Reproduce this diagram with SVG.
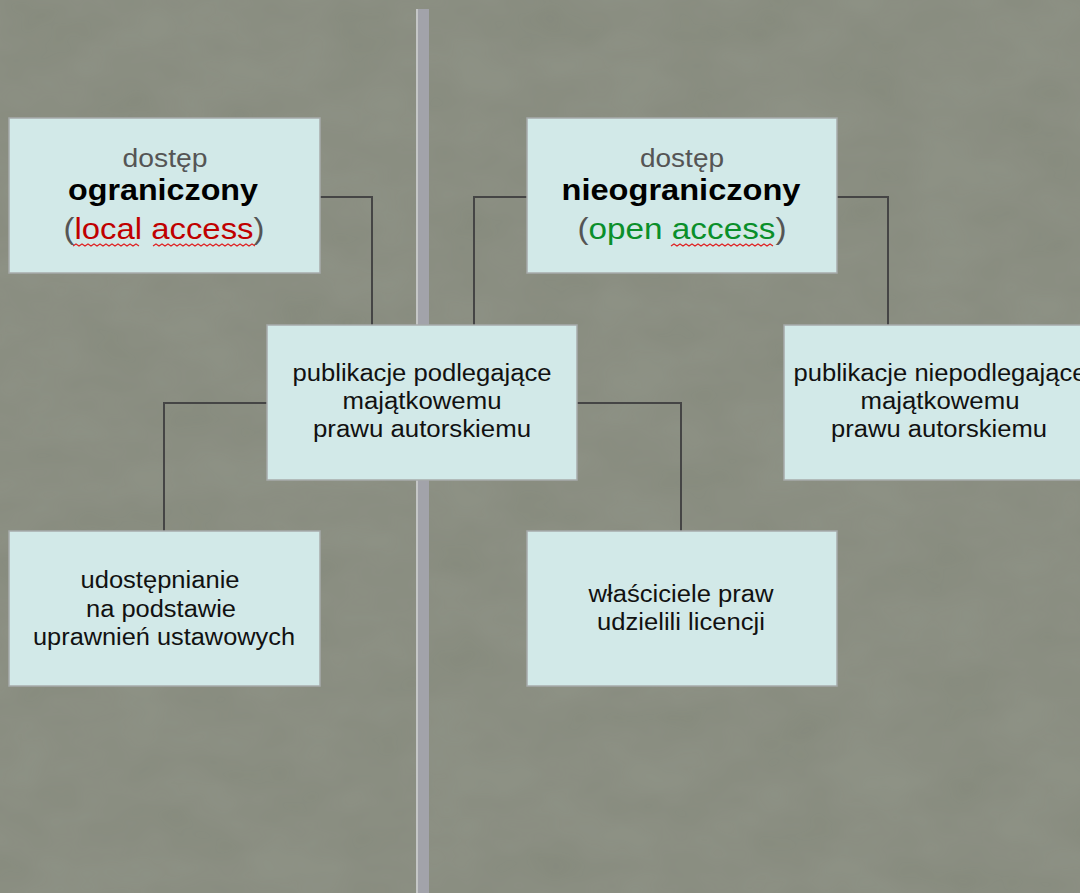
<svg xmlns="http://www.w3.org/2000/svg" width="1080" height="893" viewBox="0 0 1080 893">
<defs>
<style>
.bg{fill:#868a7d}
.box{fill:#d2e9e8;stroke:#a7abab;stroke-width:1.5}
.conn{fill:none;stroke:#454545;stroke-width:2}
.t{font-family:"Liberation Sans",Arial,sans-serif;text-anchor:middle;fill:#111}
.body{font-size:23px}
.small{font-size:25px;fill:#555}
.big{font-size:29px;font-weight:bold;fill:#000}
.par{font-size:29px;fill:#555}
.red{fill:#c00000}
.green{fill:#0a8f2a}
.sq{fill:none;stroke:#e02020;stroke-width:1.2}
</style>
<filter id="tex" x="0" y="0" width="100%" height="100%">
<feTurbulence type="fractalNoise" baseFrequency="0.012 0.02" numOctaves="3" seed="4"/>
<feColorMatrix type="matrix" values="0 0 0 0 0.55  0 0 0 0 0.57  0 0 0 0 0.51  0 0 0 0.25 0"/>
</filter>
</defs>
<rect class="bg" x="0" y="0" width="1080" height="893"/>
<rect x="0" y="0" width="1080" height="893" filter="url(#tex)" opacity="0.6"/>
<g id="divider">
<rect x="416" y="9" width="13" height="884" fill="#a2a3aa"/>
<rect x="416" y="9" width="2" height="884" fill="#c4c6c6"/>
</g>
<g id="connectors">
<polyline class="conn" points="320,197 372,197 372,325"/>
<polyline class="conn" points="527,197 474,197 474,325"/>
<polyline class="conn" points="837,197 888,197 888,325"/>
<polyline class="conn" points="267,403 164,403 164,531"/>
<polyline class="conn" points="577,403 681,403 681,531"/>
</g>
<g id="node-ograniczony">
<rect class="box" x="9" y="118" width="311" height="155"/>
<text class="t small" x="165" y="167" textLength="85" lengthAdjust="spacingAndGlyphs">dostęp</text>
<text class="t big" x="163" y="200" textLength="190" lengthAdjust="spacingAndGlyphs">ograniczony</text>
<text class="t par" x="164" y="239" textLength="201" lengthAdjust="spacingAndGlyphs">(<tspan class="red">local access</tspan>)</text>
<path class="sq" d="M73,246 l3,-2 l3,2 l3,-2 l3,2 l3,-2 l3,2 l3,-2 l3,2 l3,-2 l3,2 l3,-2 l3,2 l3,-2 l3,2 l3,-2 l3,2 l3,-2 l3,2 l3,-2 l3,2 l3,-2 l3,2"/>
<path class="sq" d="M153,246 l3,-2 l3,2 l3,-2 l3,2 l3,-2 l3,2 l3,-2 l3,2 l3,-2 l3,2 l3,-2 l3,2 l3,-2 l3,2 l3,-2 l3,2 l3,-2 l3,2 l3,-2 l3,2 l3,-2 l3,2 l3,-2 l3,2 l3,-2 l3,2 l3,-2 l3,2 l3,-2 l3,2 l3,-2 l3,2 l3,-2 l3,2"/>
</g>
<g id="node-nieograniczony">
<rect class="box" x="527" y="118" width="310" height="155"/>
<text class="t small" x="682" y="167" textLength="84" lengthAdjust="spacingAndGlyphs">dostęp</text>
<text class="t big" x="681" y="200" textLength="239" lengthAdjust="spacingAndGlyphs">nieograniczony</text>
<text class="t par" x="682" y="239" textLength="209" lengthAdjust="spacingAndGlyphs">(<tspan class="green">open access</tspan>)</text>
<path class="sq" d="M671,246 l3,-2 l3,2 l3,-2 l3,2 l3,-2 l3,2 l3,-2 l3,2 l3,-2 l3,2 l3,-2 l3,2 l3,-2 l3,2 l3,-2 l3,2 l3,-2 l3,2 l3,-2 l3,2 l3,-2 l3,2 l3,-2 l3,2 l3,-2 l3,2 l3,-2 l3,2 l3,-2 l3,2 l3,-2 l3,2 l3,-2 l3,2"/>
</g>
<g id="node-podlegajace">
<rect class="box" x="267" y="325" width="310" height="155"/>
<text class="t body" x="422" y="381" textLength="259" lengthAdjust="spacingAndGlyphs">publikacje podlegające</text>
<text class="t body" x="422" y="409" textLength="159" lengthAdjust="spacingAndGlyphs">majątkowemu</text>
<text class="t body" x="422" y="437" textLength="218" lengthAdjust="spacingAndGlyphs">prawu autorskiemu</text>
</g>
<g id="node-niepodlegajace">
<rect class="box" x="784" y="325" width="312" height="155"/>
<text class="t body" x="940" y="381" textLength="293" lengthAdjust="spacingAndGlyphs">publikacje niepodlegające</text>
<text class="t body" x="940" y="409" textLength="159" lengthAdjust="spacingAndGlyphs">majątkowemu</text>
<text class="t body" x="939" y="437" textLength="216" lengthAdjust="spacingAndGlyphs">prawu autorskiemu</text>
</g>
<g id="node-udostepnianie">
<rect class="box" x="9" y="531" width="311" height="155"/>
<text class="t body" x="160" y="588" textLength="159" lengthAdjust="spacingAndGlyphs">udostępnianie</text>
<text class="t body" x="161" y="617" textLength="150" lengthAdjust="spacingAndGlyphs">na podstawie</text>
<text class="t body" x="164" y="645" textLength="262" lengthAdjust="spacingAndGlyphs">uprawnień ustawowych</text>
</g>
<g id="node-licencje">
<rect class="box" x="527" y="531" width="310" height="155"/>
<text class="t body" x="681" y="602" textLength="185" lengthAdjust="spacingAndGlyphs">właściciele praw</text>
<text class="t body" x="681" y="630" textLength="168" lengthAdjust="spacingAndGlyphs">udzielili licencji</text>
</g>
</svg>
